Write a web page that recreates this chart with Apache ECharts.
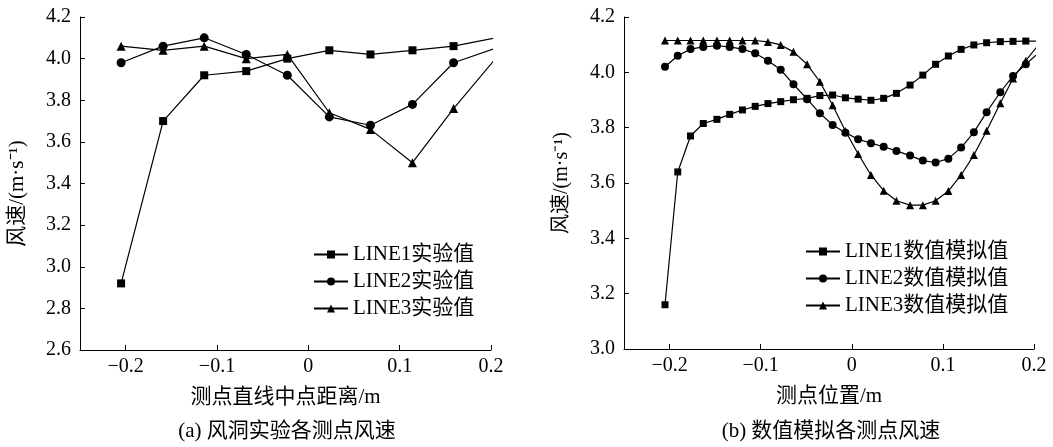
<!DOCTYPE html>
<html>
<head>
<meta charset="utf-8">
<script src="https://cdn.jsdelivr.net/npm/echarts@6/dist/echarts.min.js"></script>
<style>
  html, body { margin: 0; padding: 0; background: #fff; }
  #chart { width: 1053px; height: 447px; }
</style>
</head>
<body>
<div id="chart"></div>
<script>
// (a) wind tunnel measurements: position from line midpoint (m) and wind speed (m/s)
const expX = [-0.205, -0.159, -0.114, -0.068, -0.023, 0.023, 0.068, 0.114, 0.159, 0.205];
const expLine1 = [2.92, 3.70, 3.92, 3.94, 4.00, 4.04, 4.02, 4.04, 4.06, 4.10];
const expLine2 = [3.98, 4.06, 4.10, 4.02, 3.92, 3.72, 3.68, 3.78, 3.98, 4.05];
const expLine3 = [4.06, 4.04, 4.06, 4.00, 4.02, 3.74, 3.66, 3.50, 3.76, 4.00];

// (b) numerical simulation: measuring point position (m) and wind speed (m/s)
const simX = [-0.205, -0.191, -0.177, -0.163, -0.148, -0.134, -0.120, -0.106, -0.092, -0.078,
              -0.064, -0.049, -0.035, -0.021, -0.007, 0.007, 0.021, 0.035, 0.049, 0.064,
              0.078, 0.092, 0.106, 0.120, 0.134, 0.148, 0.163, 0.177, 0.191, 0.205];
const simLine1 = [3.16, 3.64, 3.77, 3.815, 3.83, 3.848, 3.864, 3.877, 3.887, 3.894,
                  3.901, 3.906, 3.916, 3.918, 3.908, 3.903, 3.899, 3.906, 3.924, 3.954,
                  3.99, 4.029, 4.059, 4.083, 4.099, 4.107, 4.111, 4.112, 4.113, 4.113];
const simLine2 = [4.02, 4.06, 4.084, 4.092, 4.096, 4.092, 4.084, 4.069, 4.042, 4.009,
                  3.957, 3.903, 3.852, 3.81, 3.782, 3.758, 3.744, 3.731, 3.716, 3.699,
                  3.681, 3.674, 3.688, 3.728, 3.783, 3.856, 3.928, 3.987, 4.029, 4.07];
const simLine3 = [4.115, 4.115, 4.115, 4.115, 4.115, 4.115, 4.115, 4.115, 4.11, 4.099,
                  4.074, 4.029, 3.966, 3.881, 3.788, 3.705, 3.629, 3.572, 3.536, 3.52,
                  3.52, 3.536, 3.571, 3.629, 3.701, 3.789, 3.888, 3.978, 4.042, 4.10];

const xTicks = [-0.2, -0.1, 0, 0.1, 0.2];
const expNames = ['LINE1实验值', 'LINE2实验值', 'LINE3实验值'];
const simNames = ['LINE1数值模拟值', 'LINE2数值模拟值', 'LINE3数值模拟值'];
const symbols = ['rect', 'circle', 'triangle'];

const FONT = '"Liberation Serif", "Times New Roman", "Noto Sans CJK SC", serif';
const txt = { fontFamily: FONT, color: '#000' };

function pairs(xs, ys) { return xs.map((x, i) => [x, ys[i]]); }

function xAxis(gridIndex, name) {
  return {
    gridIndex, type: 'value', min: -0.25, max: 0.2,
    name, nameLocation: 'middle', nameGap: 37,
    nameTextStyle: Object.assign({ fontSize: 21 }, txt),
    axisLine: { onZero: false, lineStyle: { color: '#000', width: 1 } },
    axisTick: { inside: true, length: 5, customValues: xTicks, lineStyle: { color: '#000' } },
    axisLabel: Object.assign({
      fontSize: 20, margin: 7, customValues: xTicks,
      formatter: v => (Math.abs(v) < 1e-9 ? '0' : String(+v.toFixed(1)).replace('-', '\u2212'))
    }, txt),
    splitLine: { show: false }
  };
}

function yAxis(gridIndex, min, size, pad) {
  return {
    gridIndex, type: 'value', min, max: 4.2, interval: 0.2,
    name: '风速/(m·s\u207B\u00B9)', nameLocation: 'middle', nameGap: 52,
    nameTextStyle: Object.assign({ fontSize: size, padding: pad }, txt),
    axisLine: { show: true, onZero: false, lineStyle: { color: '#000', width: 1 } },
    axisTick: { show: true, inside: true, length: 5, lineStyle: { color: '#000' } },
    axisLabel: Object.assign({ fontSize: 20, margin: 9, formatter: v => v.toFixed(1) }, txt),
    splitLine: { show: false }
  };
}

function series(name, xs, ys, idx, sym, size) {
  return {
    name, type: 'line', xAxisIndex: idx, yAxisIndex: idx,
    data: pairs(xs, ys), symbol: sym, symbolSize: size, showAllSymbol: true,
    clip: true, color: '#000',
    lineStyle: { color: '#000', width: 1.2 },
    itemStyle: { color: '#000' }
  };
}

const legendText = Object.assign({ fontSize: 21, lineHeight: 21 }, txt);

const chart = echarts.init(document.getElementById('chart'), null, { renderer: 'canvas' });
chart.setOption({
  animation: false,
  backgroundColor: '#fff',
  grid: [
    { left: 80, top: 17, width: 411, height: 333 },
    { left: 624, top: 17, width: 410, height: 332 }
  ],
  xAxis: [xAxis(0, '测点直线中点距离/m'), xAxis(1, '测点位置/m')],
  yAxis: [yAxis(0, 2.6, 21, [0, 20, 0, 0]), yAxis(1, 3.0, 20, [0, 0, 0, 0])],
  legend: [
    {
      data: expNames, orient: 'vertical', left: 308, top: 239,
      itemWidth: 34, itemHeight: 10, itemGap: 6, textStyle: legendText
    },
    {
      data: simNames, orient: 'vertical', left: 800, top: 236,
      itemWidth: 34, itemHeight: 10, itemGap: 6, textStyle: legendText
    }
  ],
  series: [
    series(expNames[0], expX, expLine1, 0, symbols[0], 8),
    series(expNames[1], expX, expLine2, 0, symbols[1], 9),
    series(expNames[2], expX, expLine3, 0, symbols[2], 9),
    series(simNames[0], simX, simLine1, 1, symbols[0], 7),
    series(simNames[1], simX, simLine2, 1, symbols[1], 8),
    series(simNames[2], simX, simLine3, 1, symbols[2], 8)
  ],
  graphic: [
    { type: 'text', x: 287, y: 431, style: { text: '(a) 风洞实验各测点风速', font: '21px ' + FONT, fill: '#000', textAlign: 'center', textVerticalAlign: 'middle' } },
    { type: 'text', x: 831, y: 431, style: { text: '(b) 数值模拟各测点风速', font: '21px ' + FONT, fill: '#000', textAlign: 'center', textVerticalAlign: 'middle' } }
  ]
});
</script>
</body>
</html>
